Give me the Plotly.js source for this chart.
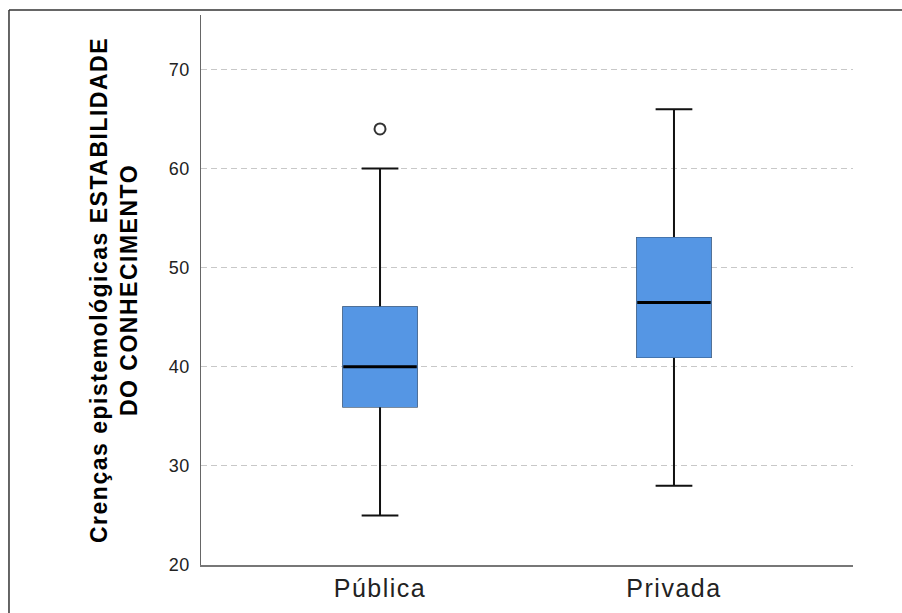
<!DOCTYPE html>
<html>
<head>
<meta charset="utf-8">
<script src="https://cdn.plot.ly/plotly-3.0.1.min.js"></script>
<style>
html, body { margin: 0; padding: 0; background: #fff; }
#chart { width: 902px; height: 613px; }
#chart text.ytitle { letter-spacing: 1.5px; }
#chart g.xtick text { letter-spacing: 1.5px; }
#chart g.ytick text { letter-spacing: 0.5px; }
</style>
</head>
<body>
<div id="chart"></div>
<script>
// ---- data ----
const categories = ['Pública', 'Privada'];
const lowerWhisker = [25, 28];
const q1 = [36, 41];
const median = [40, 46.5];
const q3 = [46, 53];
const upperWhisker = [60, 66];
const outlierCategory = ['Pública'];
const outlierValue = [64];
const yTicks = [20, 30, 40, 50, 60, 70];
const yTitle = 'Crenças epistemológicas ESTABILIDADE<br>DO CONHECIMENTO';

const boxBlue = '#5596e4';
const FONT = 'Liberation Sans, Arial, Helvetica, sans-serif';

const common = {
  type: 'box', x: categories, width: 0.25, whiskerwidth: 0.5,
  boxpoints: false, showlegend: false, hoverinfo: 'skip'
};

const traces = [
  // whiskers + caps
  Object.assign({}, common, {
    q1: q1, median: median, q3: q3,
    lowerfence: lowerWhisker, upperfence: upperWhisker,
    fillcolor: boxBlue, line: {color: '#111', width: 2}
  }),
  // box body without dark outline
  Object.assign({}, common, {
    q1: q1, median: median, q3: q3,
    lowerfence: q1, upperfence: q3,
    fillcolor: boxBlue, line: {color: boxBlue, width: 1.5}
  }),
  // median line
  Object.assign({}, common, {
    q1: median, median: median, q3: median,
    lowerfence: median, upperfence: median,
    fillcolor: 'rgba(0,0,0,0)', line: {color: '#000', width: 3}
  }),
  // outlier
  {
    type: 'scatter', mode: 'markers', x: outlierCategory, y: outlierValue,
    marker: {symbol: 'circle-open', size: 11, color: '#333', line: {width: 2, color: '#333'}},
    showlegend: false, hoverinfo: 'skip'
  }
];

const layout = {
  width: 902, height: 613,
  margin: {l: 201, r: 49, t: 15, b: 48},
  paper_bgcolor: '#fff', plot_bgcolor: '#fff',
  font: {family: FONT, color: '#222'},
  showlegend: false,
  boxmode: 'overlay',
  xaxis: {
    type: 'category', range: [-0.609, 1.609],
    showline: true, linecolor: '#777', linewidth: 1.5,
    showgrid: false, zeroline: false, ticks: '',
    tickfont: {size: 25, color: '#222', family: FONT},
    ticklabelstandoff: 0
  },
  yaxis: {
    range: [20, 75.5], tickvals: yTicks,
    showline: true, linecolor: '#666', linewidth: 1.5,
    showgrid: true, gridcolor: '#c8c8c8', gridwidth: 1, griddash: '6px,4px',
    zeroline: false, ticks: '',
    tickfont: {size: 18, color: '#222', family: FONT},
    ticklabelstandoff: 6,
    title: {text: yTitle, font: {size: 23, color: '#000', family: FONT, weight: 'bold'}, standoff: 26}
  },
  shapes: [
    {type: 'line', xref: 'paper', yref: 'paper', x0: -0.2945, x1: 1.08, y0: 1.0091, y1: 1.0091,
     line: {color: '#333', width: 1.5}},
    {type: 'line', xref: 'paper', yref: 'paper', x0: -0.2945, x1: -0.2945, y0: 1.0091, y1: -0.09,
     line: {color: '#333', width: 1.5}}
  ]
};

Plotly.newPlot('chart', traces, layout, {staticPlot: true, displayModeBar: false});
</script>
</body>
</html>
